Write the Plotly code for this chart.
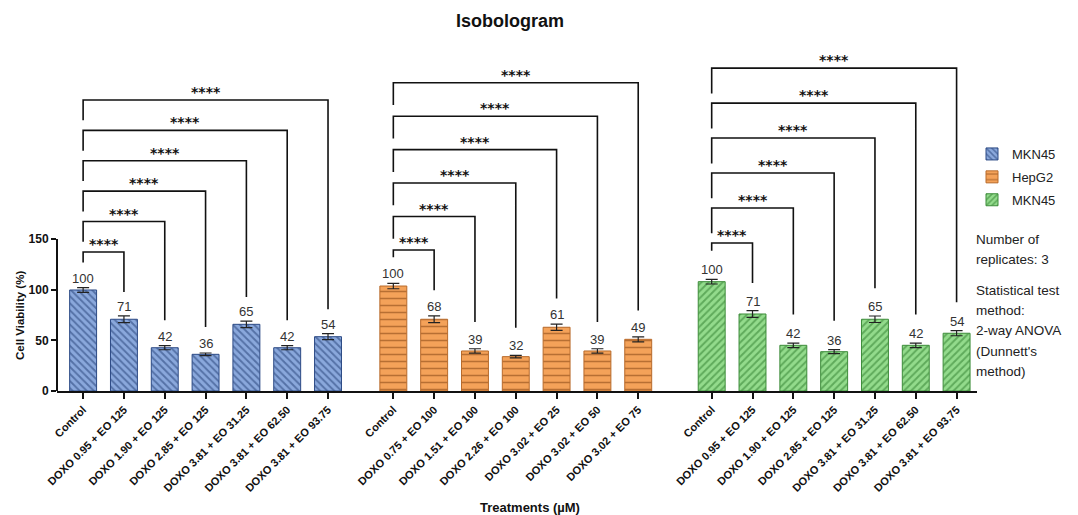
import plotly.graph_objects as go

# ---------------- data ----------------
categories_mkn45 = ["Control", "DOXO 0.95 + EO 125", "DOXO 1.90 + EO 125", "DOXO 2.85 + EO 125",
                    "DOXO 3.81 + EO 31.25", "DOXO 3.81 + EO 62.50", "DOXO 3.81 + EO 93.75"]
categories_hepg2 = ["Control", "DOXO 0.75 + EO 100", "DOXO 1.51 + EO 100", "DOXO 2.26 + EO 100",
                    "DOXO 3.02 + EO 25", "DOXO 3.02 + EO 50", "DOXO 3.02 + EO 75"]
categories_mkn45_b = ["Control", "DOXO 0.95 + EO 125", "DOXO 1.90 + EO 125", "DOXO 2.85 + EO 125",
                      "DOXO 3.81 + EO 31.25", "DOXO 3.81 + EO 62.50", "DOXO 3.81 + EO 93.75"]

mkn45_values = [99.7, 70.8, 42.7, 36.2, 65.8, 42.7, 53.6]
mkn45_errors = [2.3, 3.3, 2.0, 1.3, 3.2, 2.0, 3.0]
mkn45_labels = ["100", "71", "42", "36", "65", "42", "54"]

hepg2_values = [103.6, 70.8, 39.5, 33.9, 62.9, 39.5, 51.0]
hepg2_errors = [2.7, 3.3, 2.2, 1.3, 3.0, 2.2, 2.5]
hepg2_labels = ["100", "68", "39", "32", "61", "39", "49"]

mkn45b_values = [107.9, 76.0, 45.1, 38.8, 70.8, 45.1, 57.0]
mkn45b_errors = [2.3, 3.3, 2.2, 2.0, 3.2, 2.2, 2.5]
mkn45b_labels = ["100", "71", "42", "36", "65", "42", "54"]

series_names = ["MKN45", "HepG2", "MKN45"]
significance = ["****", "****", "****", "****", "****", "****"]
y_ticks = [0, 50, 100, 150]
note_lines = ["Number of", "replicates: 3", "Statistical test", "method:", "2-way ANOVA",
              "(Dunnett's", "method)"]

# ---------------- layout / style ----------------
group_offsets = [0.0, 7.6, 15.4]
bracket_base = [137.2, 139.2, 146.1]
bracket_step = [30.0, 33.0, 34.5]
leg_gap = [27.0, 28.5, 30.5]
left_leg = [20.0, 22.0, 25.0]
note_y_px = [239, 259, 290, 310, 330, 351, 371]

styles = [
    dict(color="#8aa8dc", fg="#1f3a70", line="#2c4a85", shape="\\", size=5, sol=0.38),
    dict(color="#f4a259", fg="#7a3c0e", line="#b86a2a", shape="-", size=7, sol=0.22),
    dict(color="#93db8c", fg="#2b7a2a", line="#3d8c3a", shape="/", size=5, sol=0.40),
]

groups = [
    (categories_mkn45, mkn45_values, mkn45_errors, mkn45_labels),
    (categories_hepg2, hepg2_values, hepg2_errors, hepg2_labels),
    (categories_mkn45_b, mkn45b_values, mkn45b_errors, mkn45b_labels),
]

W, H = 1078, 515
ML, MR, MT, MB = 57, 101, 57, 124
plot_h = H - MT - MB
plot_w = W - ML - MR

fig = go.Figure()
shapes = []
annotations = []
tickvals, ticktext = [], []
FONT = "Liberation Sans, Arial"
LBL_FONT = dict(family=FONT, size=13, color="#333333")

for g, (cats, vals, errs, labels) in enumerate(groups):
    st = styles[g]
    xs = [group_offsets[g] + i for i in range(len(cats))]
    tickvals += xs
    ticktext += cats
    fig.add_trace(go.Bar(
        x=xs, y=vals, name=series_names[g], width=0.66, legendgroup=f"g{g}",
        marker=dict(color=st["color"], line=dict(color=st["line"], width=1),
                    pattern=dict(shape=st["shape"], fgcolor=st["fg"], bgcolor=st["color"],
                                 size=st["size"], solidity=st["sol"])),
        error_y=dict(type="data", array=errs, visible=True, color="#222222", thickness=1.2, width=6),
    ))
    for x, v, e, t in zip(xs, vals, errs, labels):
        annotations.append(dict(x=x, y=v + e, text=t, showarrow=False, yanchor="bottom",
                                yshift=0, font=LBL_FONT))
    x0 = xs[0]
    ctrl_top = vals[0] + leg_gap[g]
    for k in range(1, len(xs)):
        yb = bracket_base[g] + bracket_step[g] * (k - 1)
        x1 = xs[k]
        yl = max(yb - left_leg[g], ctrl_top)
        yr = vals[k] + leg_gap[g]
        shapes.append(dict(type="path", xref="x", yref="y",
                           path=f"M {x0},{yl} L {x0},{yb} L {x1},{yb} L {x1},{yr}",
                           line=dict(color="#111111", width=1.6)))
        annotations.append(dict(x=(x0 + x1) / 2, y=yb, text=f"<b>{significance[k - 1]}</b>",
                                showarrow=False, yanchor="bottom", yshift=-2,
                                font=dict(family="DejaVu Sans", size=14, color="#111111")))

shapes.append(dict(type="line", xref="paper", yref="y", x0=0, x1=0, y0=0, y1=150,
                   line=dict(color="#111111", width=2)))

annotations.append(dict(xref="paper", yref="y", x=(20 - ML) / plot_w, y=74,
                        text="<b>Cell Viability (%)</b>",
                        textangle=-90, showarrow=False, xanchor="center", yanchor="middle",
                        font=dict(family=FONT, size=11.5, color="#111111")))
annotations.append(dict(xref="paper", yref="paper", x=(530 - ML) / plot_w,
                        y=-(507 - (H - MB)) / plot_h,
                        text="<b>Treatments (µM)</b>", showarrow=False, xanchor="center",
                        yanchor="middle", font=dict(family=FONT, size=13, color="#111111")))
NOTE_FONT = dict(family=FONT, size=13.5, color="#222222")
for line, ypx in zip(note_lines, note_y_px):
    annotations.append(dict(xref="paper", yref="paper", x=(974 - ML) / plot_w,
                            y=((H - MB) - ypx) / plot_h, xanchor="left", yanchor="middle",
                            align="left", showarrow=False, text=line, font=NOTE_FONT))

fig.update_layout(
    width=W, height=H,
    margin=dict(l=ML, r=MR, t=MT, b=MB, autoexpand=False),
    paper_bgcolor="white", plot_bgcolor="white",
    title=dict(text="<b>Isobologram</b>", x=510 / W, xanchor="center", y=1 - 21 / H,
               yanchor="middle", yref="container",
               font=dict(family=FONT, size=18, color="#111111")),
    showlegend=True,
    legend=dict(x=(972 - ML) / plot_w, y=((H - MB) - 139) / plot_h, xanchor="left", yanchor="top",
                bgcolor="rgba(0,0,0,0)",
                font=dict(family=FONT, size=13, color="#222222"),
                itemwidth=30, tracegroupgap=3),
    bargap=0.3,
    shapes=shapes,
    annotations=annotations,
)
fig.update_xaxes(range=[-0.64, 21.9], tickvals=tickvals, ticktext=[f"<b>{t}</b>" for t in ticktext],
                 tickangle=-45, automargin=False,
                 showline=True, linecolor="#111111", linewidth=2, ticks="outside", ticklen=6,
                 tickwidth=2, tickcolor="#111111", showgrid=False, zeroline=False,
                 tickfont=dict(family=FONT, size=11, color="#111111"))
fig.update_yaxes(range=[0, 329.6], tickvals=y_ticks, ticktext=[f"<b>{v}</b>" for v in y_ticks],
                 automargin=False,
                 showline=False, ticks="outside", ticklen=5, tickwidth=2, tickcolor="#111111",
                 showgrid=False, zeroline=False,
                 tickfont=dict(family=FONT, size=12, color="#111111"))

fig.write_html("out.html", config={"displayModeBar": False},
               post_script="document.body.style.margin='0px';document.body.style.overflow='hidden';")
